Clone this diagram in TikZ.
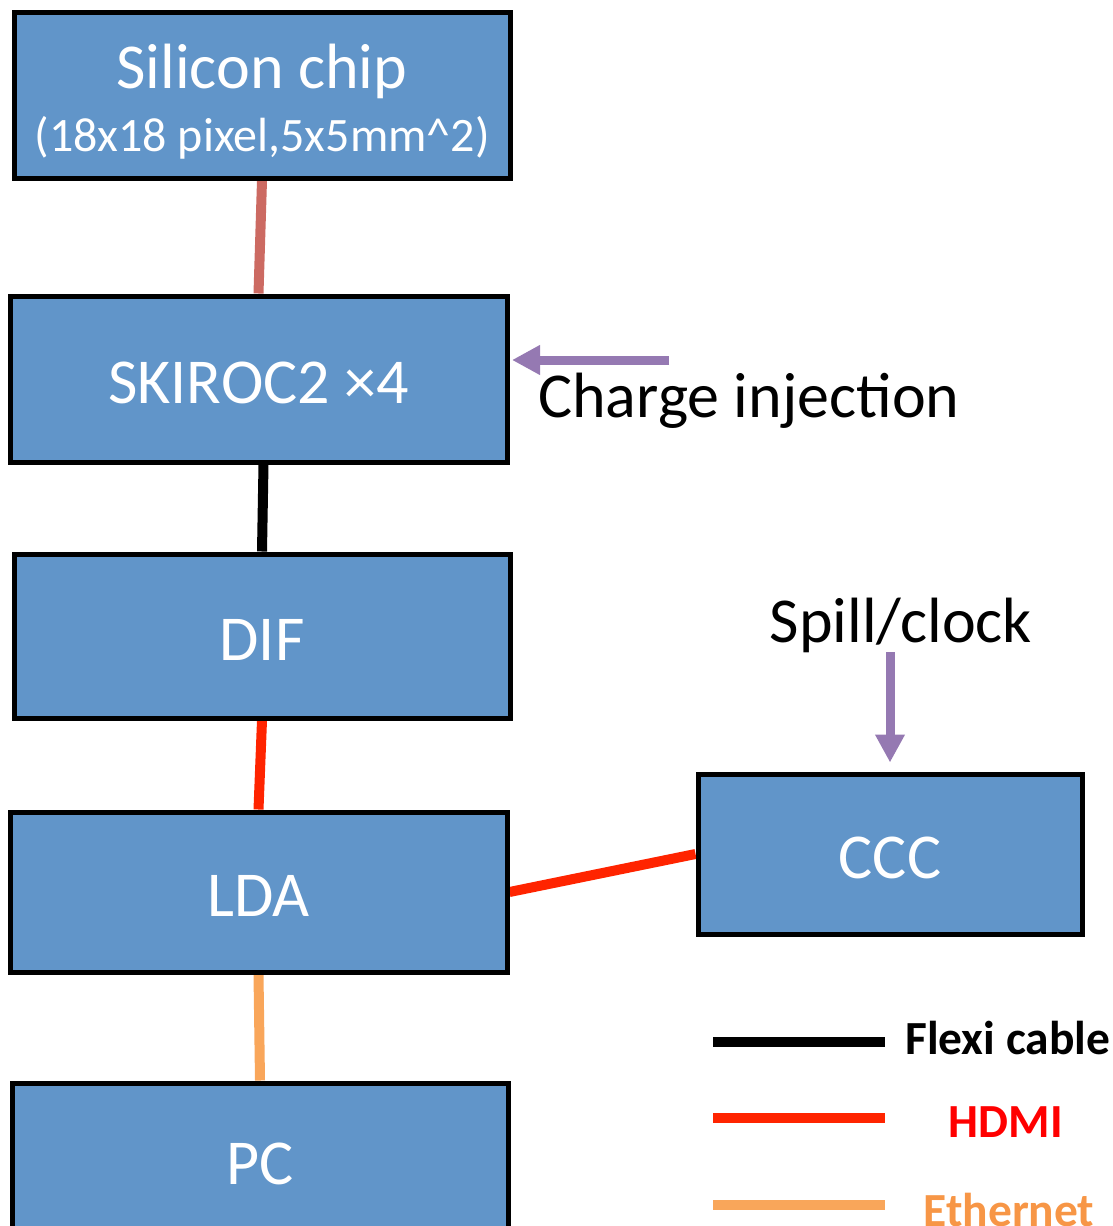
\documentclass[tikz,border=0pt]{standalone}
\usepackage{fontspec}
\setmainfont{Carlito}
\usetikzlibrary{arrows.meta,backgrounds}
\definecolor{boxblue}{HTML}{6195C9}
\definecolor{flexired}{HTML}{CC6A62}
\definecolor{hdmired}{HTML}{FF2400}
\definecolor{ethorange}{HTML}{F9A65A}
\definecolor{ethtext}{HTML}{F79646}
\definecolor{sigpurple}{HTML}{9579B2}
\begin{document}
\begin{tikzpicture}[x=1pt,y=-1pt,
  block/.style={draw=black, line width=5pt, fill=boxblue, text=white,
    font=\fontsize{64}{70}\selectfont, inner sep=0pt,
    text height=49pt, text depth=0pt},
  intext/.style={text=white, inner sep=0pt},
  cable/.style={line width=10pt},
  sigarrow/.style={draw=sigpurple, line width=9pt,
    -{Triangle[length=28pt,width=28pt]}},
  biglabel/.style={font=\fontsize{64}{70}\selectfont, inner sep=0pt},
  legendtext/.style={font=\bfseries\fontsize{47.5}{52}\selectfont, inner sep=0pt},
  legendline/.style={line width=10pt}]

\useasboundingbox (0,0) rectangle (1113,1226);
\clip (0,0) rectangle (1113,1226);

% blocks
\node[block, minimum width=496pt, minimum height=166pt] (chip) at (262,95) {};
\node[intext, anchor=base, font=\fontsize{64}{70}\selectfont] (chipname) at (262,88) {Silicon chip};
\node[intext, anchor=base, font=\fontsize{48}{54}\selectfont] (chipsize) at (262,151) {(18x18 pixel,5x5mm\textasciicircum 2)};

\node[block, minimum width=497pt, minimum height=166pt] (skiroc) at (258.5,379) {SKIROC2 ×4};
\node[block, minimum width=496pt, minimum height=164pt] (dif) at (262,636) {DIF};
\node[block, minimum width=497pt, minimum height=160pt] (lda) at (258.5,892) {LDA};
\node[block, minimum width=496pt, minimum height=154pt] (pc) at (260,1160) {PC};
\node[block, minimum width=384pt, minimum height=160pt] (ccc) at (890,854) {CCC};

% cables
\begin{scope}[on background layer]
  \draw[cable, flexired] (chip.south) -- (skiroc.north);
  \draw[cable, black] ([xshift=5pt]skiroc.south) -- (dif.north);
  \draw[cable, hdmired] (dif.south) -- (lda.north);
  \draw[cable, hdmired] (lda.east) -- (ccc.west);
  \draw[cable, ethorange] (lda.south) -- (pc.north);
\end{scope}

% charge injection
\node[biglabel, anchor=base west] (charge) at (538,417) {Charge injection};
\coordinate (ciStart) at (669,360);
\draw[sigarrow, shorten >=2.5pt] (ciStart) -- (ciStart -| skiroc.east);

% spill / clock
\node[biglabel, anchor=base] (spill) at (901,642) {Spill/clock};
\coordinate (scStart) at (890,652);
\draw[sigarrow, shorten >=9pt] (scStart) -- (scStart |- ccc.north);

% legend
\coordinate (f1) at (713,1042); \coordinate (f2) at (885,1042);
\draw[legendline, black] (f1) -- (f2);
\node[legendtext, anchor=base west] (flexi) at (905,1054) {Flexi cable};

\coordinate (h1) at (713,1118); \coordinate (h2) at (885,1118);
\draw[legendline, hdmired] (h1) -- (h2);
\node[legendtext, anchor=base, text=red] (hdmi) at (1006,1137) {HDMI};

\coordinate (e1) at (713,1205); \coordinate (e2) at (885,1205);
\draw[legendline, ethorange] (e1) -- (e2);
\node[legendtext, anchor=base, text=ethtext] (eth) at (1009,1226) {Ethernet};
\end{tikzpicture}
\end{document}
